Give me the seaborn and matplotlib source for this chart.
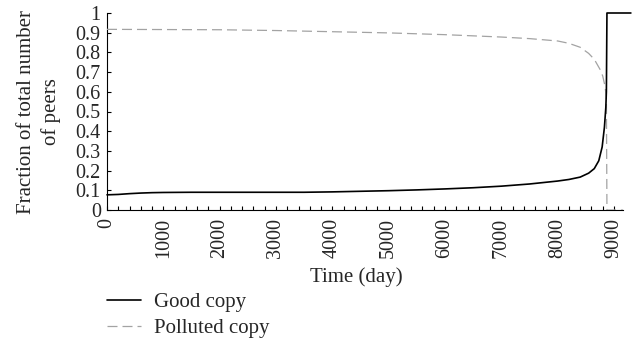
import matplotlib
matplotlib.use("Agg")
import matplotlib.pyplot as plt
from matplotlib.ticker import MultipleLocator, FixedLocator
import numpy as np
import pandas as pd
import seaborn as sns

# Fraction of peers holding each copy over time
time_good = [0, 200, 400, 600, 800, 1000, 1500, 2000, 2500, 3000, 3500, 4000,
             4500, 5000, 5500, 6000, 6500, 7000, 7500, 8000, 8200, 8400, 8550,
             8650, 8730, 8790, 8830, 8855, 8865, 8875, 9300]
good_copy = [0.077, 0.079, 0.083, 0.086, 0.088, 0.089, 0.090, 0.090, 0.090,
             0.090, 0.090, 0.092, 0.095, 0.098, 0.102, 0.107, 0.113, 0.121,
             0.132, 0.147, 0.155, 0.167, 0.187, 0.210, 0.250, 0.320, 0.420,
             0.520, 0.600, 1.000, 1.000]

time_polluted = [0, 1000, 2000, 3000, 4000, 5000, 6000, 7000, 7500, 8000, 8200,
                 8400, 8550, 8650, 8750, 8800, 8840, 8865, 8875, 9160]
polluted_copy = [0.917, 0.916, 0.915, 0.911, 0.905, 0.899, 0.890, 0.878, 0.870,
                 0.858, 0.846, 0.826, 0.795, 0.765, 0.715, 0.680, 0.630, 0.570,
                 0.000, 0.000]

y_ticks = [0, 0.1, 0.2, 0.3, 0.4, 0.5, 0.6, 0.7, 0.8, 0.9, 1]
y_tick_labels = ["0", "0.1", "0.2", "0.3", "0.4", "0.5", "0.6", "0.7", "0.8", "0.9", "1"]
x_ticks = [0, 1000, 2000, 3000, 4000, 5000, 6000, 7000, 8000, 9000]

sns.set_style("ticks")
plt.rcParams["font.family"] = ["Liberation Serif", "DejaVu Serif"]
plt.rcParams["xtick.direction"] = "in"
plt.rcParams["ytick.direction"] = "in"

fig = plt.figure(figsize=(6.37, 3.51), dpi=100)
ax = fig.add_axes([107 / 637, 1 - 210 / 351, 516 / 637, 197 / 351])

good_df = pd.DataFrame({"t": time_good, "v": good_copy})
poll_df = pd.DataFrame({"t": time_polluted, "v": polluted_copy})

sns.lineplot(data=good_df, x="t", y="v", ax=ax, color="black", linewidth=1.2,
             label="Good copy", sort=False, clip_on=False, zorder=4)
sns.lineplot(data=poll_df, x="t", y="v", ax=ax, color="#a3a3a3", linewidth=0.9,
             dashes=(8, 4), label="Polluted copy", sort=False, zorder=3)

ax.set_xlim(0, 9160)
ax.set_ylim(0, 1)
ax.xaxis.set_major_locator(FixedLocator(x_ticks))
ax.xaxis.set_minor_locator(MultipleLocator(200))
ax.set_yticks(y_ticks)
ax.set_yticklabels(y_tick_labels)
ax.set_xticks(x_ticks)
ax.set_xticklabels([str(t) for t in x_ticks], rotation=90)

ax.tick_params(axis="both", which="both", direction="in", length=3, width=0.8,
               color="black", labelsize=14.5)
ax.tick_params(axis="y", pad=4.5)
ax.tick_params(axis="x", pad=5.5)

for side in ["top", "right"]:
    ax.spines[side].set_visible(False)
for side in ["left", "bottom"]:
    ax.spines[side].set_linewidth(0.8)
    ax.spines[side].set_color("black")

ax.set_xlabel("Time (day)", fontsize=15)
ax.set_ylabel("Fraction of total number\nof peers", fontsize=15,
              multialignment="center", linespacing=1.32)
ax.xaxis.set_label_coords(0.484, -0.29)
ax.yaxis.set_label_coords(-0.089, 0.5)

ax.legend(loc="upper left", bbox_to_anchor=(0, -0.42), frameon=False,
          fontsize=15, handlelength=1.65, handletextpad=0.6, borderpad=0,
          borderaxespad=0, labelspacing=0.3)

fig.savefig("out.png", dpi=100)
